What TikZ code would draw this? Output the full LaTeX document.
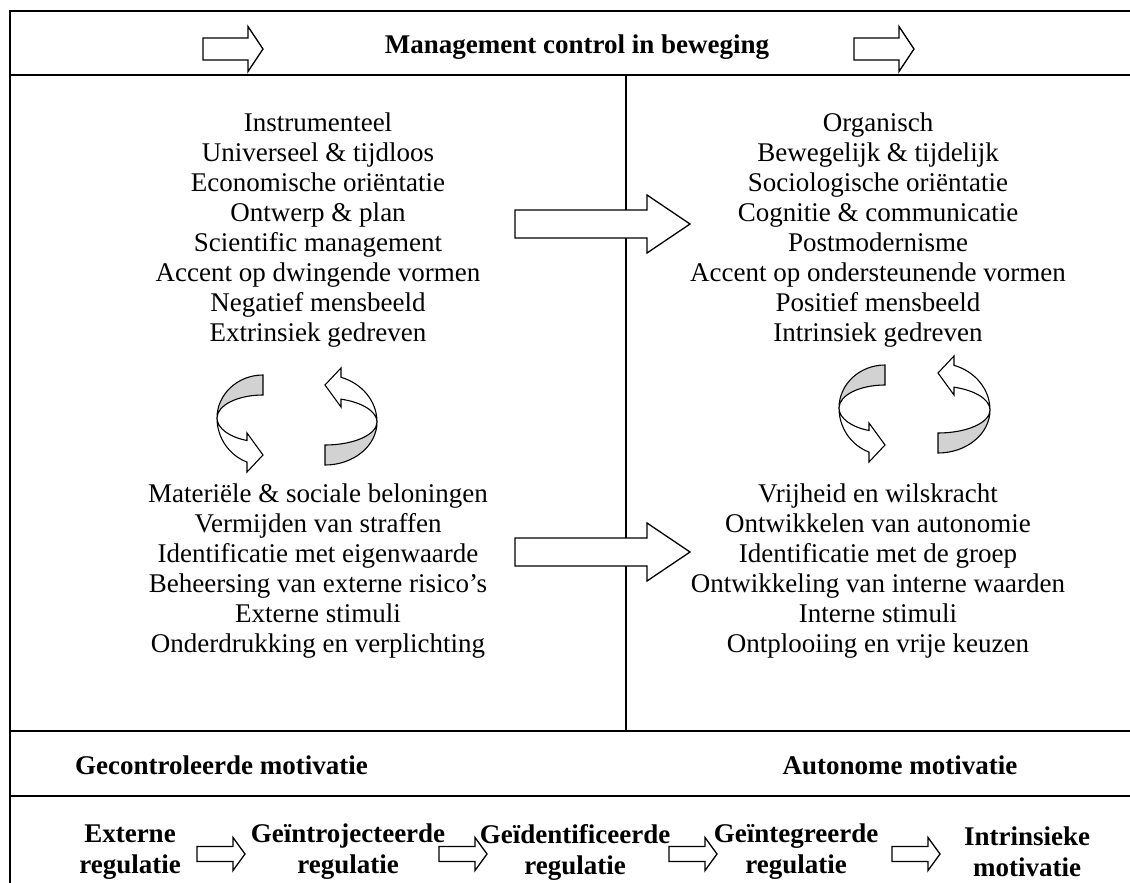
\documentclass[tikz,border=0pt]{standalone}
\usepackage{fontspec}
\setmainfont{Liberation Serif}
\begin{document}
\begin{tikzpicture}[x=1pt, y=-1pt, line join=miter,
	frame/.style={line width=1.4pt},
	txt/.style={inner sep=0pt, align=center, font=\fontsize{27}{30}\selectfont},
	btxt/.style={txt, font=\fontsize{27}{31}\selectfont\bfseries},
	arrowline/.style={draw=black, line width=1.3pt, fill=white},
	cycline/.style={draw=black, line width=1.1pt},
	pics/blockarr/.style args={#1/#2/#3/#4}{code={
			\draw[arrowline] (0,-#2) -- ({#1-#4},-#2) -- ({#1-#4},-#3) -- (#1,0)
			-- ({#1-#4},#3) -- ({#1-#4},#2) -- (0,#2) -- cycle;}},
	pics/cyclearr/.style args={#1/#2}{code={
			\draw[cycline, fill=gray!35] (0,-43) arc[start angle=270, end angle=180, x radius=#1, y radius=43]
			arc[start angle=180, end angle=270, x radius=#1, y radius=23] -- cycle;
			\draw[cycline, fill=white] (-#1,0) arc[start angle=180, end angle=#2, x radius=#1, y radius=24]
			-- (-16,15) -- (0,37) -- (-16,54) -- ({#1*cos(#2)},{47*sin(#2)})
			arc[start angle=#2, end angle=180, x radius=#1, y radius=47] -- cycle;}}]
	\useasboundingbox (0,0) rectangle (1130,883);
	% frame
	\draw[frame] (1130,11) -- (10,11) -- (10,883);
	\draw[frame] (10,75) -- (1130,75);
	\draw[frame] (10,731) -- (1130,731);
	\draw[frame] (10,796) -- (1130,796);
	\draw[frame] (626,75) -- (626,731);
	% title
	\node[btxt] (title) at (577,47) {Management control in beweging};
	\pic at (203,49) {blockarr=60/11/22.5/15};
	\pic at (854,49) {blockarr=60/11/22.5/15};
	% upper lists
	\node[txt] (instr) at (318,230.5) {Instrumenteel\\Universeel \& tijdloos\\Economische oriëntatie\\Ontwerp \& plan\\Scientific management\\Accent op dwingende vormen\\Negatief mensbeeld\\Extrinsiek gedreven};
	\node[txt] (organ) at (878,230.5) {Organisch\\Bewegelijk \& tijdelijk\\Sociologische oriëntatie\\Cognitie \& communicatie\\Postmodernisme\\Accent op ondersteunende vormen\\Positief mensbeeld\\Intrinsiek gedreven};
	\pic at (515,224) {blockarr=175/14/29/43};
	% cycles
	\pic at (263,418) {cyclearr=46/110.4};
	\pic[rotate=180] at (325,422) {cyclearr=52/107.9};
	\pic at (885,408) {cyclearr=46/110.4};
	\pic[rotate=180] at (938,410) {cyclearr=52/107.9};
	% lower lists
	\node[txt] (mater) at (318,571.5) {Materiële \& sociale beloningen\\Vermijden van straffen\\Identificatie met eigenwaarde\\Beheersing van externe risico’s\\Externe stimuli\\Onderdrukking en verplichting};
	\node[txt] (vrij) at (878,571.5) {Vrijheid en wilskracht\\Ontwikkelen van autonomie\\Identificatie met de groep\\Ontwikkeling van interne waarden\\Interne stimuli\\Ontplooiing en vrije keuzen};
	\pic at (515,552) {blockarr=175/14/29/43};
	% motivation
	\node[btxt, anchor=west] (gecon) at (75,765) {Gecontroleerde motivatie};
	\node[btxt] (auton) at (900,765) {Autonome motivatie};
	% regulation row
	\node[btxt] (extreg) at (130,852) {Externe\\regulatie};
	\node[btxt] (introreg) at (348,852) {Geïntrojecteerde\\regulatie};
	\node[btxt] (identreg) at (575,852) {Geïdentificeerde\\regulatie};
	\node[btxt] (integreg) at (796,852) {Geïntegreerde\\regulatie};
	\node[btxt] (intrmot) at (1027,852) {Intrinsieke\\motivatie};
	\foreach \x in {197,439,669,892}
	\pic at (\x,854) {blockarr=48/7.5/16.5/12};
\end{tikzpicture}
\end{document}
